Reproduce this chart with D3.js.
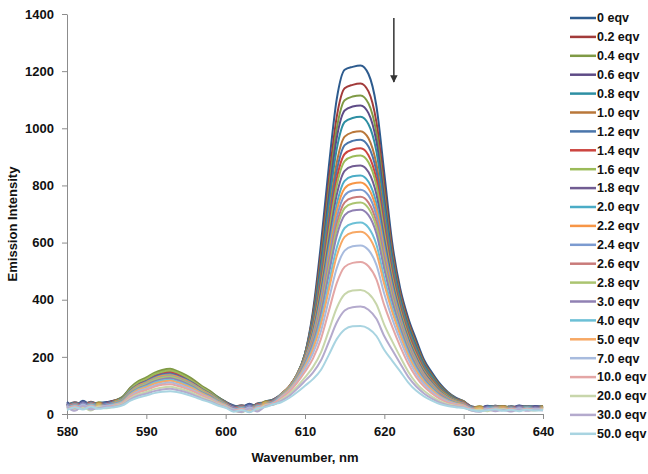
<!DOCTYPE html>
<html>

<head>
  <title>Emission spectra titration</title>
  <script src="https://cdn.jsdelivr.net/npm/d3@7/dist/d3.min.js"></script>
  <style type="text/css">
    html,
    body {
      margin: 0;
      padding: 0;
      background: #fff;
    }

    .axis path,
    .axis line {
      fill: none;
      stroke: #8c8c8c;
      stroke-width: 1px;
    }

    .axis text {
      font-family: "Liberation Sans", Arial, sans-serif;
      font-size: 13px;
      font-weight: bold;
      fill: #111;
    }

    .title {
      font-family: "Liberation Sans", Arial, sans-serif;
      font-size: 13px;
      font-weight: bold;
      fill: #111;
    }

    .legend text {
      font-family: "Liberation Sans", Arial, sans-serif;
      font-size: 12.5px;
      font-weight: bold;
      fill: #111;
    }

    .line {
      fill: none;
      stroke-width: 2px;
    }
  </style>
</head>

<body>
  <svg class="svg" width="648" height="474"></svg>
  <script type="text/javascript">
    // wavelength grid, 580..640 nm, 1 nm steps
    var wavelengths = d3.range(580, 641, 1);

    var eqvLabels = ['0 eqv', '0.2 eqv', '0.4 eqv', '0.6 eqv', '0.8 eqv', '1.0 eqv', '1.2 eqv', '1.4 eqv',
      '1.6 eqv', '1.8 eqv', '2.0 eqv', '2.2 eqv', '2.4 eqv', '2.6 eqv', '2.8 eqv', '3.0 eqv', '4.0 eqv',
      '5.0 eqv', '7.0 eqv', '10.0 eqv', '20.0 eqv', '30.0 eqv', '50.0 eqv'];

    var colors = ['#2d5b8e', '#a23b3a', '#7f9a45', '#5e4b86', '#2e8fa3', '#b9773a',
      '#4a75ab', '#cc4540', '#9bbb59', '#715c92', '#4bacc6', '#f79646',
      '#7c9bd0', '#c97b7a', '#abc470', '#9081b3', '#6cc0d6', '#f7a864',
      '#a8bbde', '#e4a6a5', '#c8d6ab', '#b4aacd', '#a9d4e1'];

    var yTicks = [0, 200, 400, 600, 800, 1000, 1200, 1400];
    var xTicks = [580, 590, 600, 610, 620, 630, 640];

    // emission intensity, one array per equivalent, 580..640 nm
    var s0 = [42, 28, 46, 33, 38, 42, 47, 59, 90, 110, 123, 137, 147, 150, 142, 129, 114, 94, 78, 59, 43, 30, 24, 36, 26, 44, 50, 66, 88, 131, 210, 359, 592, 865, 1102, 1205, 1215, 1220, 1190, 1078, 841, 598, 439, 337, 261, 190, 145, 106, 77, 57, 45, 25, 21, 29, 23, 27, 22, 30, 24, 28, 25];
    var s02 = [31, 41, 33, 43, 35, 39, 47, 58, 90, 111, 124, 139, 148, 152, 144, 131, 115, 95, 78, 58, 42, 25, 31, 23, 37, 41, 51, 68, 91, 134, 210, 348, 562, 816, 1040, 1140, 1152, 1157, 1129, 1022, 800, 576, 425, 326, 250, 182, 138, 101, 74, 55, 44, 26, 22, 25, 29, 23, 27, 22, 28, 24, 26];
    var s04 = [37, 29, 39, 27, 41, 35, 47, 60, 93, 115, 128, 144, 154, 158, 149, 136, 119, 98, 81, 60, 42, 27, 21, 31, 29, 45, 47, 69, 93, 136, 210, 341, 543, 785, 999, 1098, 1111, 1115, 1087, 985, 773, 561, 416, 318, 244, 178, 135, 99, 73, 54, 44, 23, 27, 21, 26, 28, 22, 26, 25, 23, 28];
    var s06 = [40, 26, 44, 31, 36, 40, 46, 57, 89, 109, 122, 137, 147, 150, 142, 129, 113, 93, 77, 57, 41, 28, 22, 34, 24, 42, 48, 69, 94, 137, 209, 333, 526, 758, 966, 1062, 1076, 1080, 1053, 954, 750, 548, 407, 310, 237, 173, 131, 96, 71, 53, 42, 24, 20, 28, 22, 26, 21, 29, 23, 27, 24];
    var s08 = [30, 40, 32, 42, 34, 38, 45, 57, 88, 108, 121, 135, 145, 148, 140, 127, 112, 92, 76, 57, 41, 24, 30, 22, 36, 40, 50, 70, 95, 139, 209, 326, 507, 728, 927, 1022, 1036, 1040, 1014, 919, 724, 533, 398, 303, 231, 169, 129, 93, 69, 52, 42, 26, 22, 25, 29, 23, 27, 22, 28, 24, 26];
    var s10 = [35, 27, 37, 25, 39, 33, 45, 56, 88, 109, 122, 137, 146, 150, 142, 129, 113, 93, 76, 56, 40, 25, 19, 29, 27, 43, 45, 70, 96, 138, 205, 315, 483, 691, 880, 971, 986, 990, 965, 875, 691, 512, 385, 292, 222, 162, 123, 89, 66, 50, 42, 22, 26, 20, 25, 27, 21, 25, 24, 22, 27];
    var s12 = [38, 24, 42, 29, 34, 38, 43, 55, 85, 105, 118, 133, 142, 145, 137, 125, 109, 90, 74, 55, 39, 26, 20, 32, 22, 40, 46, 69, 95, 138, 203, 308, 468, 669, 851, 941, 956, 960, 936, 849, 671, 500, 376, 284, 216, 158, 119, 87, 64, 50, 40, 22, 18, 26, 20, 24, 19, 27, 21, 25, 22];
    var s14 = [28, 38, 30, 40, 32, 36, 44, 55, 87, 107, 120, 135, 145, 148, 140, 127, 111, 91, 75, 55, 39, 22, 28, 20, 34, 38, 48, 70, 96, 138, 202, 302, 454, 646, 823, 910, 926, 930, 906, 822, 651, 489, 369, 279, 212, 154, 117, 85, 63, 49, 40, 24, 20, 23, 27, 21, 25, 20, 26, 22, 24];
    var s16 = [33, 25, 35, 23, 37, 31, 43, 55, 88, 110, 123, 139, 148, 152, 144, 130, 113, 93, 76, 55, 38, 23, 17, 27, 25, 41, 43, 69, 96, 138, 200, 296, 442, 628, 799, 885, 901, 905, 881, 800, 634, 478, 362, 273, 206, 151, 114, 83, 62, 48, 39, 20, 24, 18, 23, 25, 19, 23, 22, 20, 25];
    var s18 = [36, 22, 40, 27, 32, 36, 41, 52, 83, 103, 115, 130, 139, 142, 134, 122, 106, 87, 71, 52, 37, 24, 18, 30, 20, 38, 44, 69, 95, 136, 196, 287, 425, 602, 767, 851, 867, 870, 847, 769, 611, 463, 351, 264, 199, 146, 110, 80, 59, 46, 38, 21, 17, 25, 19, 23, 18, 26, 20, 24, 21];
    var s20 = [26, 36, 28, 38, 30, 34, 41, 52, 81, 100, 112, 126, 135, 138, 130, 119, 103, 85, 70, 52, 36, 20, 26, 18, 32, 36, 46, 69, 94, 135, 193, 279, 408, 577, 734, 816, 832, 835, 813, 738, 588, 448, 341, 257, 193, 141, 106, 77, 58, 45, 37, 23, 19, 22, 26, 20, 24, 19, 25, 21, 23];
    var s22 = [31, 23, 33, 21, 35, 29, 40, 50, 79, 99, 110, 124, 133, 136, 129, 117, 102, 84, 69, 50, 35, 21, 15, 25, 23, 39, 41, 68, 94, 134, 191, 273, 396, 558, 711, 790, 807, 810, 789, 716, 571, 437, 333, 251, 188, 138, 104, 75, 56, 44, 36, 19, 23, 17, 22, 24, 18, 22, 21, 19, 24];
    var s24 = [34, 20, 38, 25, 30, 34, 38, 49, 77, 96, 107, 121, 129, 132, 125, 113, 99, 81, 66, 49, 34, 22, 16, 28, 18, 36, 42, 67, 92, 132, 188, 266, 384, 540, 687, 765, 782, 785, 765, 694, 553, 425, 325, 245, 183, 134, 101, 73, 54, 42, 35, 19, 15, 23, 17, 21, 16, 24, 18, 22, 19];
    var s26 = [24, 34, 26, 36, 28, 32, 38, 48, 75, 93, 104, 117, 125, 128, 121, 110, 96, 79, 65, 48, 34, 18, 24, 16, 30, 34, 44, 66, 92, 130, 184, 260, 372, 522, 665, 741, 757, 760, 740, 672, 537, 414, 317, 238, 178, 130, 98, 72, 54, 42, 35, 21, 17, 20, 24, 18, 22, 17, 23, 19, 21];
    var s28 = [29, 21, 31, 19, 33, 27, 37, 48, 75, 94, 105, 119, 127, 130, 123, 111, 97, 80, 65, 48, 33, 19, 13, 23, 21, 37, 39, 66, 91, 129, 182, 254, 362, 507, 646, 721, 737, 740, 720, 654, 523, 405, 311, 233, 174, 127, 96, 69, 52, 41, 33, 17, 21, 15, 20, 22, 16, 20, 19, 17, 22];
    var s30 = [32, 18, 36, 23, 28, 32, 36, 46, 73, 90, 101, 114, 122, 125, 118, 107, 93, 76, 63, 46, 32, 20, 14, 26, 16, 34, 40, 64, 89, 127, 178, 247, 350, 489, 623, 696, 712, 715, 696, 632, 506, 393, 302, 226, 168, 123, 92, 67, 50, 39, 32, 18, 14, 22, 16, 20, 15, 23, 17, 21, 18];
    var s40 = [21, 31, 23, 33, 25, 29, 35, 44, 70, 87, 97, 110, 117, 120, 113, 103, 90, 73, 60, 44, 31, 15, 21, 13, 27, 31, 41, 62, 87, 123, 171, 235, 328, 457, 582, 651, 667, 670, 652, 593, 475, 372, 287, 215, 159, 117, 88, 63, 48, 37, 31, 19, 15, 18, 22, 16, 20, 15, 21, 17, 19];
    var s50 = [26, 18, 28, 16, 30, 24, 33, 42, 67, 84, 94, 106, 113, 116, 110, 99, 87, 71, 58, 42, 30, 16, 10, 20, 18, 34, 36, 61, 85, 120, 166, 226, 313, 434, 553, 620, 635, 638, 621, 564, 453, 357, 276, 206, 152, 112, 84, 61, 45, 36, 30, 15, 19, 13, 18, 20, 14, 18, 17, 15, 20];
    var s70 = [29, 15, 33, 20, 25, 29, 32, 40, 64, 80, 89, 100, 107, 110, 104, 94, 82, 67, 55, 40, 28, 17, 11, 23, 13, 31, 37, 59, 81, 115, 159, 212, 289, 400, 510, 572, 587, 590, 574, 522, 420, 333, 259, 193, 142, 105, 78, 57, 43, 34, 28, 15, 11, 19, 13, 17, 12, 20, 14, 18, 15];
    var s100 = [18, 28, 20, 30, 22, 26, 30, 38, 61, 75, 84, 95, 102, 104, 98, 89, 78, 64, 52, 38, 27, 12, 18, 10, 24, 28, 38, 56, 77, 109, 148, 194, 262, 360, 458, 515, 529, 532, 517, 471, 380, 305, 237, 177, 130, 96, 72, 53, 40, 32, 27, 17, 13, 16, 20, 14, 18, 13, 19, 15, 17];
    var s200 = [22, 14, 24, 12, 26, 20, 28, 35, 55, 69, 77, 87, 93, 95, 90, 82, 71, 58, 48, 35, 25, 12, 6, 16, 14, 30, 32, 50, 69, 96, 128, 164, 215, 292, 371, 419, 432, 434, 422, 384, 312, 254, 200, 149, 109, 81, 61, 45, 34, 28, 24, 12, 16, 10, 15, 17, 11, 15, 14, 12, 17];
    var s300 = [25, 11, 29, 16, 21, 25, 26, 33, 51, 64, 71, 80, 86, 88, 83, 76, 66, 54, 45, 33, 23, 13, 7, 19, 9, 27, 33, 46, 63, 88, 116, 145, 187, 252, 320, 362, 374, 376, 365, 333, 272, 224, 177, 131, 97, 72, 54, 40, 31, 26, 23, 12, 8, 16, 10, 14, 9, 17, 11, 15, 12];
    var s500 = [14, 24, 16, 26, 18, 22, 24, 30, 47, 58, 65, 73, 78, 80, 76, 69, 60, 50, 41, 30, 22, 8, 14, 6, 20, 24, 34, 41, 56, 76, 99, 122, 154, 207, 262, 296, 307, 308, 299, 273, 224, 186, 149, 111, 82, 62, 47, 35, 28, 24, 21, 14, 10, 13, 17, 11, 15, 10, 16, 12, 14];

    var seriesValues = [s0, s02, s04, s06, s08, s10, s12, s14, s16, s18, s20, s22, s24, s26, s28, s30,
      s40, s50, s70, s100, s200, s300, s500];

    var data = eqvLabels.map((label, i) => ({
      label: label,
      color: colors[i],
      points: wavelengths.map((w, j) => ({ x: w, y: seriesValues[i][j] }))
    }));

    var svg = d3.select('.svg');
    var plotLeft = 67, plotRight = 543, plotTop = 14, plotBottom = 414;

    var xScale = d3.scaleLinear()
      .domain([580, 640])
      .range([plotLeft, plotRight]);

    var yScale = d3.scaleLinear()
      .domain([0, 1400])
      .range([plotBottom, plotTop]);

    var xAxis = d3.axisBottom(xScale)
      .tickValues(xTicks)
      .tickFormat(d3.format('d'))
      .tickSizeInner(5)
      .tickSizeOuter(0)
      .tickPadding(8);

    var yAxis = d3.axisLeft(yScale)
      .tickValues(yTicks)
      .tickFormat(d3.format('d'))
      .tickSizeInner(5)
      .tickSizeOuter(0)
      .tickPadding(8);

    svg.append('g')
      .attr('class', 'x axis')
      .attr('transform', `translate(0, ${plotBottom})`)
      .call(xAxis);

    svg.append('g')
      .attr('class', 'y axis')
      .attr('transform', `translate(${plotLeft}, 0)`)
      .call(yAxis);

    // 曲線
    var linePath = d3.line()
      .x(d => xScale(d.x))
      .y(d => yScale(d.y))
      .curve(d3.curveMonotoneX);

    svg.selectAll('path.line')
      .data(data)
      .enter()
      .append('path')
      .attr('class', 'line')
      .attr('stroke', d => d.color)
      .attr('d', d => linePath(d.points));

    // axis titles
    svg.append('text')
      .attr('class', 'title')
      .attr('x', (plotLeft + plotRight) / 2)
      .attr('y', 462)
      .attr('text-anchor', 'middle')
      .text('Wavenumber, nm');

    svg.append('text')
      .attr('class', 'title')
      .attr('transform', 'translate(17, 224) rotate(-90)')
      .attr('text-anchor', 'middle')
      .text('Emission Intensity');

    // arrow (decreasing intensity)
    svg.append('defs').append('marker')
      .attr('id', 'head')
      .attr('viewBox', '0 0 10 10')
      .attr('refX', 9)
      .attr('refY', 5)
      .attr('markerWidth', 5)
      .attr('markerHeight', 6)
      .attr('orient', 'auto')
      .append('path')
      .attr('d', 'M0,0 L10,5 L0,10 z')
      .attr('fill', '#333');

    svg.append('line')
      .attr('x1', xScale(621.2))
      .attr('x2', xScale(621.2))
      .attr('y1', 18)
      .attr('y2', 82)
      .attr('stroke', '#333')
      .attr('stroke-width', 1.5)
      .attr('marker-end', 'url(#head)');

    // legend
    var legend = svg.append('g').attr('class', 'legend');
    var rows = legend.selectAll('g')
      .data(data)
      .enter()
      .append('g')
      .attr('transform', (d, i) => `translate(570, ${18 + i * 18.9})`);

    rows.append('line')
      .attr('x1', 0)
      .attr('x2', 26)
      .attr('stroke', d => d.color)
      .attr('stroke-width', 2.5);

    rows.append('text')
      .attr('x', 27)
      .attr('dy', '0.35em')
      .text(d => d.label);
  </script>
</body>

</html>
